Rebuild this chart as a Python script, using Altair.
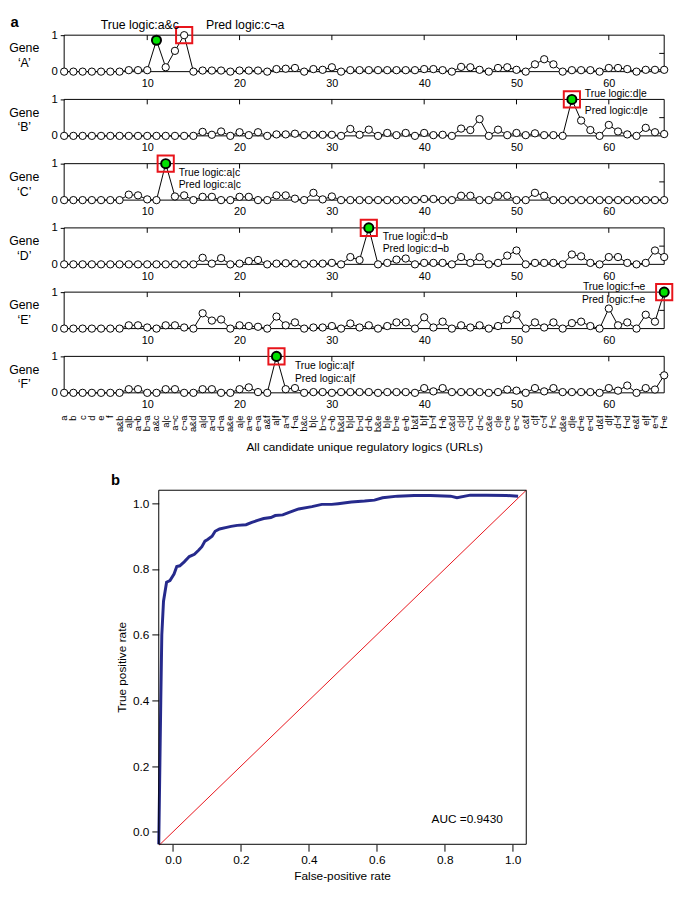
import altair as alt
import pandas as pd

FONT = "Liberation Sans"

logic_labels = [
    "a", "b", "c", "d", "e", "f",
    "a&b", "a|b", "a¬b", "b¬a",
    "a&c", "a|c", "a¬c", "c¬a",
    "a&d", "a|d", "a¬d", "d¬a",
    "a&e", "a|e", "a¬e", "e¬a",
    "a&f", "a|f", "a¬f", "f¬a",
    "b&c", "b|c", "b¬c", "c¬b",
    "b&d", "b|d", "b¬d", "d¬b",
    "b&e", "b|e", "b¬e", "e¬b",
    "b&f", "b|f", "b¬f", "f¬b",
    "c&d", "c|d", "c¬d", "d¬c",
    "c&e", "c|e", "c¬e", "e¬c",
    "c&f", "c|f", "c¬f", "f¬c",
    "d&e", "d|e", "d¬e", "e¬d",
    "d&f", "d|f", "d¬f", "f¬d",
    "e&f", "e|f", "e¬f", "f¬e",
]

gene_A = [0, 0, 0, 0, 0, 0, 0, 0.04, 0.04, 0.04,
          0.86, 0.12, 0.57, 1.0, 0, 0.03, 0.03, 0.03, 0, 0.03,
          0.03, 0.03, 0, 0.07, 0.08, 0.1, 0, 0.07, 0.05, 0.12,
          0, 0.04, 0.04, 0.04, 0.04, 0.04, 0.04, 0.04, 0.04, 0.07,
          0.07, 0.04, 0, 0.13, 0.12, 0.05, 0, 0.1, 0.12, 0.05,
          0, 0.2, 0.34, 0.2, 0, 0.04, 0.04, 0.04, 0, 0.1,
          0.1, 0.07, 0, 0.05, 0.05, 0.05]
gene_B = [0, 0, 0, 0, 0, 0, 0, 0, 0, 0,
          0, 0, 0, 0, 0, 0.11, 0.03, 0.12, 0, 0.1,
          0.02, 0.1, 0, 0.04, 0.04, 0.06, 0.02, 0.03, 0.03, 0.03,
          0, 0.19, 0.03, 0.17, 0, 0.08, 0.02, 0.08, 0, 0.08,
          0.02, 0.03, 0, 0.2, 0.16, 0.46, 0, 0.17, 0.02, 0.08,
          0.02, 0.07, 0.02, 0.02, 0, 1.0, 0.42, 0.16, 0, 0.3,
          0.12, 0.04, 0, 0.22, 0.1, 0.05]
gene_C = [0, 0, 0, 0, 0, 0, 0, 0.15, 0.13, 0.02,
          0, 1.0, 0.1, 0.13, 0, 0.09, 0.09, 0, 0, 0.09,
          0.09, 0, 0, 0.13, 0.13, 0.04, 0, 0.2, 0.02, 0.1,
          0, 0, 0, 0, 0, 0, 0, 0, 0, 0.03,
          0.03, 0, 0, 0.12, 0.12, 0, 0, 0.12, 0.12, 0,
          0, 0.2, 0.12, 0, 0, 0, 0, 0, 0, 0,
          0, 0, 0, 0, 0, 0]
gene_D = [0, 0, 0, 0, 0, 0, 0, 0, 0, 0,
          0, 0, 0, 0, 0, 0.18, 0.02, 0.17, 0, 0.02,
          0.09, 0.12, 0, 0.02, 0.03, 0.02, 0, 0.02, 0.02, 0.04,
          0, 0.2, 0.12, 1.0, 0, 0.04, 0.13, 0.16, 0, 0.04,
          0.04, 0.04, 0, 0.2, 0.04, 0.2, 0, 0.04, 0.24, 0.38,
          0, 0.04, 0.04, 0.04, 0, 0.27, 0.22, 0.04, 0, 0.2,
          0.2, 0.04, 0, 0.04, 0.38, 0.2]
gene_E = [0, 0, 0, 0, 0, 0, 0, 0.09, 0.09, 0.03,
          0, 0.09, 0.09, 0.03, 0, 0.42, 0.22, 0.25, 0, 0.09,
          0.07, 0.05, 0, 0.33, 0.09, 0.17, 0, 0.03, 0.03, 0.07,
          0, 0.14, 0.03, 0.09, 0, 0.07, 0.17, 0.17, 0, 0.31,
          0.03, 0.19, 0, 0.09, 0.03, 0.09, 0, 0.07, 0.25, 0.38,
          0, 0.17, 0.03, 0.17, 0, 0.15, 0.19, 0.07, 0, 0.55,
          0.09, 0.17, 0, 0.38, 0.19, 1.0]
gene_F = [0, 0, 0, 0, 0, 0, 0, 0.1, 0.1, 0,
          0, 0.1, 0.1, 0, 0, 0.1, 0.1, 0, 0, 0.1,
          0.15, 0.02, 0, 1.0, 0.1, 0.13, 0, 0.02, 0.02, 0,
          0.02, 0.02, 0.02, 0.02, 0, 0.02, 0.02, 0.02, 0, 0.13,
          0.04, 0.13, 0.02, 0.02, 0.02, 0.02, 0, 0.02, 0.09, 0.06,
          0, 0.13, 0.04, 0.13, 0.02, 0.02, 0.02, 0.02, 0, 0.13,
          0.06, 0.2, 0, 0.13, 0.09, 0.48]

gene_names = ["A", "B", "C", "D", "E", "F"]
gene_values = [gene_A, gene_B, gene_C, gene_D, gene_E, gene_F]
true_index = [11, 56, 12, 34, 66, 24]
pred_index = [14, 56, 12, 34, 66, 24]

x_ticks = [10, 20, 30, 40, 50, 60]
y_ticks = [0, 0.5, 1]

# annotation (text, x, y, align)
notes = {
    "A": [("True logic:a&c", 9.2, 1.27, "center"), ("Pred logic:c¬a", 20.6, 1.27, "center")],
    "B": [("True logic:d|e", 57.4, 1.16, "left"), ("Pred logic:d|e", 57.4, 0.68, "left")],
    "C": [("True logic:a|c", 13.4, 0.73, "left"), ("Pred logic:a|c", 13.4, 0.40, "left")],
    "D": [("True logic:d¬b", 35.5, 0.75, "left"), ("Pred logic:d¬b", 35.5, 0.42, "left")],
    "E": [("True logic:f¬e", 63.96, 1.14, "right"), ("Pred logic:f¬e", 63.96, 0.78, "right")],
    "F": [("True logic:a|f", 26.0, 0.73, "left"), ("Pred logic:a|f", 26.0, 0.38, "left")],
}

# ROC curve
fpr = [-0.042, -0.036, -0.033, -0.028, -0.019, -0.009, 0.003, 0.011, 0.020, 0.033,
       0.048, 0.063, 0.076, 0.085, 0.094, 0.102, 0.115, 0.124, 0.137, 0.158,
       0.171, 0.189, 0.215, 0.232, 0.249, 0.267, 0.288, 0.301, 0.323, 0.340,
       0.362, 0.370, 0.409, 0.438, 0.467, 0.486, 0.525, 0.564, 0.593, 0.617,
       0.661, 0.710, 0.758, 0.817, 0.836, 0.875, 0.923, 0.982, 1.016]
tpr = [-0.038, 0.40, 0.60, 0.702, 0.760, 0.765, 0.785, 0.808, 0.810, 0.822,
       0.838, 0.845, 0.858, 0.868, 0.885, 0.890, 0.900, 0.915, 0.922, 0.927,
       0.930, 0.933, 0.935, 0.942, 0.948, 0.954, 0.957, 0.963, 0.965, 0.972,
       0.980, 0.983, 0.990, 0.997, 0.997, 0.999, 1.004, 1.007, 1.010, 1.017,
       1.022, 1.024, 1.024, 1.022, 1.017, 1.025, 1.025, 1.024, 1.022]
diag = [-0.04, 1.04]
roc_ticks = [0.0, 0.2, 0.4, 0.6, 0.8, 1.0]
auc_text = "AUC =0.9430"

W = 609
H = 37
ONE = pd.DataFrame({"k": [0]})


def gene_panel(i):
    name = gene_names[i]
    df = pd.DataFrame({"idx": list(range(1, 67)), "val": gene_values[i], "logic": logic_labels})
    last = (i == len(gene_names) - 1)
    xs = alt.Scale(domain=[1, 66], nice=False, zero=False)
    ys = alt.Scale(domain=[0, 1], nice=False, zero=False)
    ax_kw = dict(values=x_ticks, ticks=False, tickSize=0, domain=False, grid=False,
                 labelFontSize=11, labelPadding=6, labelFlush=False)
    if last:
        ax_kw.update(title="All candidate unique regulatory logics (URLs)", titleY=55,
                     titleBaseline="middle", titleFontSize=12, titleFontWeight="normal")
    else:
        ax_kw.update(title=None)
    xaxis = alt.Axis(**ax_kw)
    yaxis = alt.Axis(values=y_ticks, labelExpr="'' + datum.value", tickSize=4, domain=False,
                     grid=False, labelFontSize=11.5, labelPadding=3,
                     title=["Gene", "‘" + name + "’"], titleAngle=0, titleAlign="center",
                     titleBaseline="middle", titleX=-41, titleY=13, titleLineHeight=15,
                     titleFontSize=12.5, titleFontWeight="normal")
    base = alt.Chart(df)
    layers = []
    layers.append(base.mark_line(color="black", strokeWidth=1).encode(
        x=alt.X("idx:Q", scale=xs, axis=xaxis), y=alt.Y("val:Q", scale=ys, axis=yaxis)))
    layers.append(alt.Chart(ONE).mark_rect(fillOpacity=0, stroke="black", strokeWidth=1).encode(
        x=alt.datum(1), x2=alt.datum(66), y=alt.datum(0), y2=alt.datum(1)))
    layers.append(alt.Chart(pd.DataFrame({"idx": x_ticks})).mark_rule(color="black", strokeWidth=1).encode(
        x="idx:Q", y=alt.value(0), y2=alt.value(5)))
    layers.append(alt.Chart(ONE).mark_rule(color="black", strokeWidth=1).encode(
        x=alt.value(W), x2=alt.value(W - 5), y=alt.datum(0.5)))
    layers.append(base.mark_circle(size=55, color="white", stroke="black", strokeWidth=1, opacity=1).encode(
        x="idx:Q", y="val:Q"))
    layers.append(base.transform_filter(alt.datum.idx == true_index[i]).mark_circle(
        size=85, color="#00e000", stroke="black", strokeWidth=2, opacity=1).encode(x="idx:Q", y="val:Q"))
    layers.append(base.transform_filter(alt.datum.idx == pred_index[i]).mark_point(
        shape="square", size=270, filled=False, color="#e8141b", strokeWidth=2, opacity=1).encode(
        x="idx:Q", y="val:Q"))
    fs = 12.5 if name == "A" else 10.5
    for (txt, xv, yv, al) in notes[name]:
        layers.append(alt.Chart(pd.DataFrame({"idx": [xv], "val": [yv], "t": [txt]})).mark_text(
            align=al, baseline="middle", fontSize=fs).encode(x="idx:Q", y="val:Q", text="t:N"))
    if name == "A":
        layers.append(alt.Chart(pd.DataFrame({"idx": [-4.8], "val": [1.365], "t": ["a"]})).mark_text(
            align="left", baseline="middle", fontSize=15, fontWeight="bold").encode(
            x="idx:Q", y="val:Q", text="t:N"))
    if last:
        layers.append(base.mark_text(angle=270, align="right", baseline="middle", fontSize=9.5).encode(
            x="idx:Q", y=alt.datum(-0.62), text="logic:N"))
    return alt.layer(*layers).properties(width=W, height=H)


panels = [gene_panel(i) for i in range(len(gene_names))]

RW = 469
RH = 430
roc_x = alt.Scale(domain=[-0.3205, 1.04], nice=False, zero=False)
roc_y = alt.Scale(domain=[-0.038, 1.252], nice=False, zero=False)
roc_df = pd.DataFrame({"fpr": fpr, "tpr": tpr})
diag_df = pd.DataFrame({"fpr": diag, "tpr": diag})

xa = alt.Axis(values=roc_ticks, format=".1f", tickSize=7, domain=False, grid=False,
              labelFontSize=12, labelPadding=4, title="False-positive rate", titleX=282,
              titleY=32, titleBaseline="middle", titleFontSize=12, titleFontWeight="normal")
ya = alt.Axis(values=roc_ticks, format=".1f", tickSize=7, domain=False, grid=False,
              labelFontSize=12, labelPadding=3, offset=-96, title="True positive rate",
              titleY=250, titleFontSize=12, titleFontWeight="normal")

roc = alt.layer(
    alt.Chart(diag_df).mark_line(color="#e8141b", strokeWidth=1).encode(
        x=alt.X("fpr:Q", scale=roc_x, axis=xa), y=alt.Y("tpr:Q", scale=roc_y, axis=ya)),
    alt.Chart(roc_df).mark_line(color="#262a8c", strokeWidth=3).encode(x="fpr:Q", y="tpr:Q"),
    alt.Chart(ONE).mark_rect(fillOpacity=0, stroke="black", strokeWidth=1).encode(
        x=alt.datum(-0.042), x2=alt.datum(1.04), y=alt.datum(-0.038), y2=alt.datum(1.04)),
    alt.Chart(pd.DataFrame({"fpr": [0.866], "tpr": [0.038], "t": [auc_text]})).mark_text(
        align="center", baseline="middle", fontSize=12).encode(x="fpr:Q", y="tpr:Q", text="t:N"),
    alt.Chart(pd.DataFrame({"fpr": [-0.169], "tpr": [1.07], "t": ["b"]})).mark_text(
        align="center", baseline="middle", fontSize=15, fontWeight="bold").encode(
        x="fpr:Q", y="tpr:Q", text="t:N"),
).properties(width=RW, height=RH)

chart = alt.vconcat(*panels, roc, spacing=28.2, bounds="flush").properties(
    padding={"left": 0, "top": 0, "right": 0, "bottom": 0}
).configure_view(strokeWidth=0).configure_axis(
    labelFont=FONT, titleFont=FONT, labelColor="black", titleColor="black", tickColor="black"
).configure_text(font=FONT, color="black")

chart.save("out.html", embed_options={"renderer": "svg", "actions": False})
